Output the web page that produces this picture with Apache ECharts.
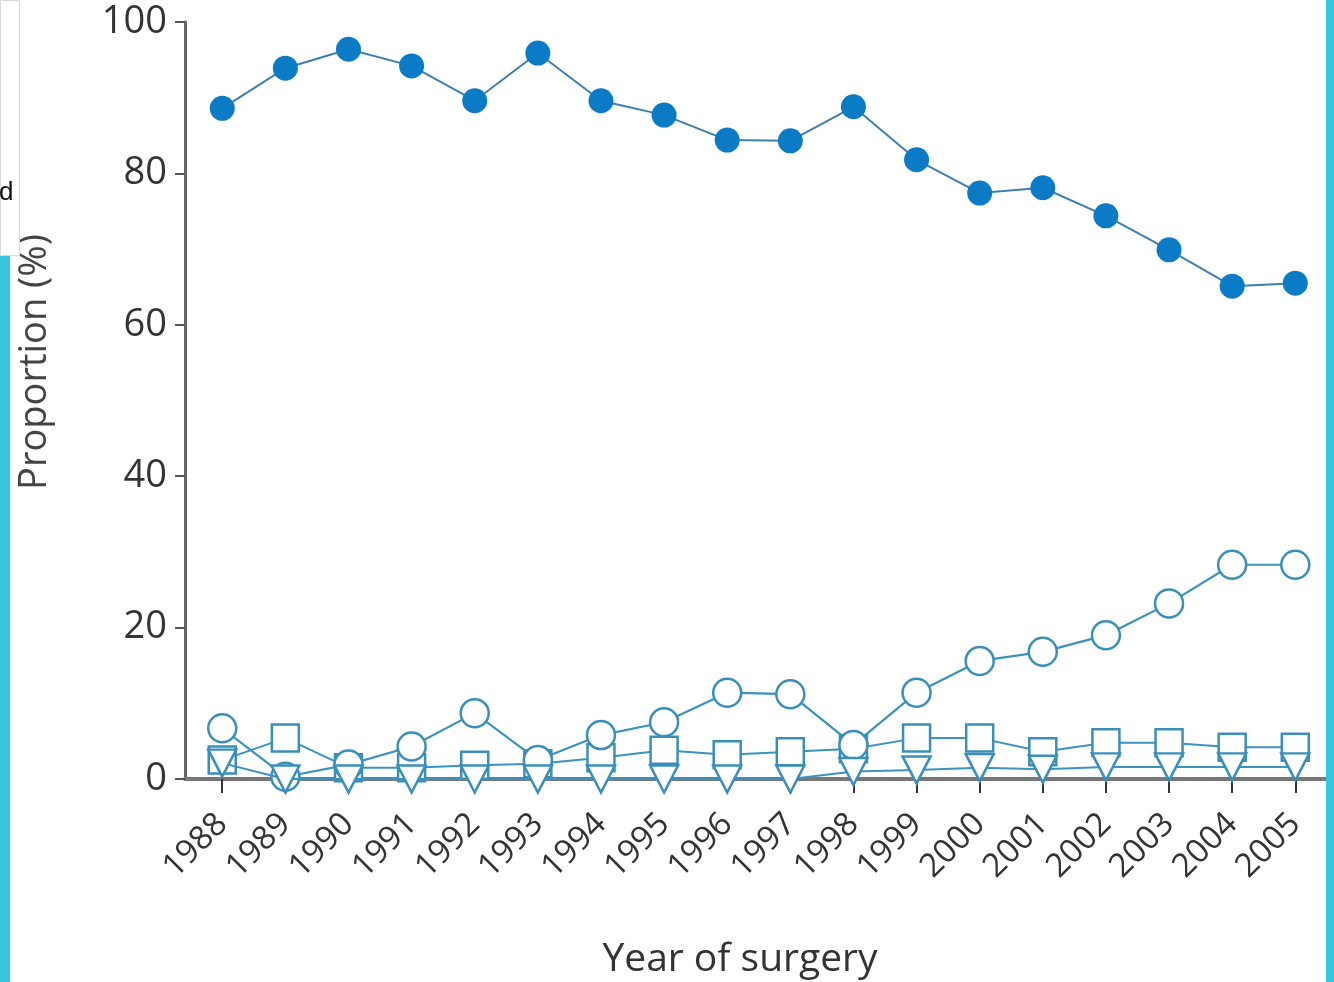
<!DOCTYPE html>
<html>
<head>
<meta charset="utf-8">
<script src="https://cdn.jsdelivr.net/npm/echarts@6/dist/echarts.min.js"></script>
<style>html,body{margin:0;padding:0;background:#fff}#c{width:1334px;height:982px}</style>
</head>
<body>
<div id="c"></div>
<script>
const years = [1988,1989,1990,1991,1992,1993,1994,1995,1996,1997,1998,1999,2000,2001,2002,2003,2004,2005];
const filledCircle = [88.6,93.9,96.4,94.2,89.6,95.9,89.6,87.7,84.4,84.3,88.8,81.8,77.4,78.1,74.4,69.9,65.1,65.5];
const openCircle = [6.7,0.3,1.9,4.3,8.7,2.5,5.8,7.5,11.4,11.2,4.5,11.4,15.6,16.8,19.0,23.2,28.3,28.3];
const openSquare = [2.5,5.4,1.5,1.5,1.8,2.0,2.8,3.8,3.2,3.6,4.0,5.4,5.4,3.6,4.8,4.8,4.2,4.2];
const openTriangle = [2.1,0,0,0,0,0,0,0,0,0,1.0,1.2,1.5,1.3,1.6,1.6,1.6,1.6];
const yTicks = [0,20,40,60,80,100];
const xTitle = 'Year of surgery';
const yTitle = 'Proportion (%)';

const pts = arr => years.map((y,i)=>[y,arr[i]]);
const lineCol = '#3a93bf';
const openStyle = {color:'#fff', borderColor:'#3a8fba', borderWidth:2.5};

const chart = echarts.init(document.getElementById('c'), null, {renderer:'canvas'});
chart.setOption({
  backgroundColor:'#fff',
  animation:false,
  grid:{left:185, top:22, right:4, bottom:203, outerBoundsMode:'none', containLabel:false},
  xAxis:{
    type:'value', min:1987.41, max:2005.55,
    splitLine:{show:false},
    axisLine:{show:true, lineStyle:{color:'#777', width:4}},
    axisTick:{show:true, customValues:years, length:14, inside:false, lineStyle:{color:'#333', width:2}},
    axisLabel:{customValues:years, rotate:45, margin:40, fontSize:33, color:'#333', fontFamily:'Open Sans', formatter: v=>String(v)}
  },
  yAxis:{
    type:'value', min:0, max:100, interval:20,
    splitLine:{show:false},
    axisLine:{show:true, lineStyle:{color:'#666', width:3}},
    axisTick:{show:true, length:10, lineStyle:{color:'#555', width:2}},
    axisLabel:{fontSize:38, color:'#333', margin:18, fontFamily:'Open Sans', customValues:yTicks}
  },
  series:[
    {type:'line', data:pts(openSquare), symbol:'rect', symbolSize:27, z:3,
     lineStyle:{color:lineCol, width:2}, itemStyle:openStyle},
    {type:'line', data:pts(openCircle), symbol:'circle', symbolSize:28, z:4,
     lineStyle:{color:lineCol, width:2.2}, itemStyle:openStyle},
    {type:'line', data:pts(openTriangle), symbol:'triangle', symbolRotate:180, symbolSize:[28,27], z:5,
     lineStyle:{color:lineCol, width:2}, itemStyle:openStyle},
    {type:'line', data:pts(filledCircle), symbol:'circle', symbolSize:25, z:6,
     lineStyle:{color:'#3d7fb0', width:2}, itemStyle:{color:'#0a7bc4', borderWidth:0}}
  ],
  graphic:[
    {type:'text', x:740, y:960, style:{text:xTitle, fontSize:39, fill:'#333', fontFamily:'Open Sans', align:'center', verticalAlign:'middle'}, z:50},
    {type:'text', x:35, y:362, rotation:Math.PI/2, style:{text:yTitle, fontSize:38, fill:'#444', fontFamily:'Open Sans', align:'center', verticalAlign:'middle'}, z:50},
    {type:'rect', left:0, top:0, shape:{width:19, height:255}, style:{fill:'#fff', stroke:'#d8d8d8', lineWidth:1}, z:100},
    {type:'text', left:-1, top:180, style:{text:'d', fontSize:26, fill:'#111', fontFamily:'Liberation Sans'}, z:101},
    {type:'rect', left:0, top:256, shape:{width:10, height:726}, style:{fill:'#36c6de'}, z:100},
    {type:'rect', left:1326, top:0, shape:{width:8, height:982}, style:{fill:'#36c6de'}, z:100}
  ]
});
</script>
</body>
</html>
